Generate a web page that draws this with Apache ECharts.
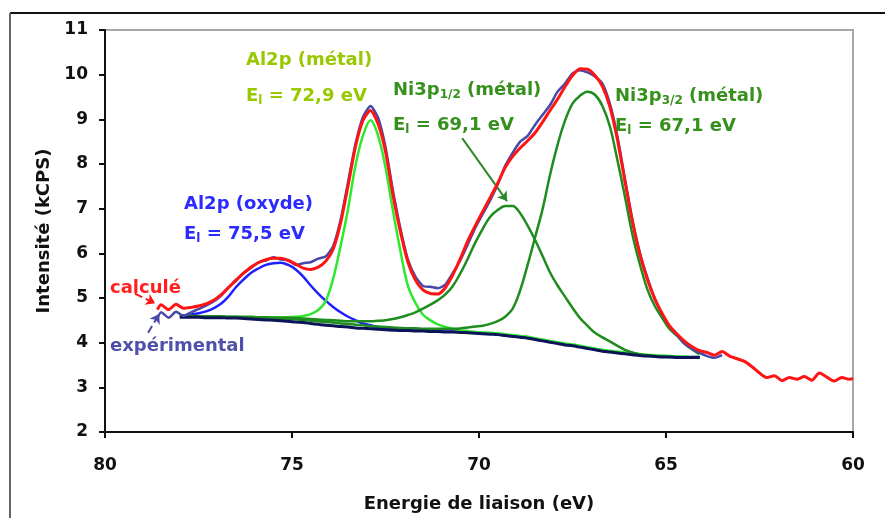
<!DOCTYPE html>
<html><head><meta charset="utf-8">
<script src="https://cdn.jsdelivr.net/npm/echarts@6/dist/echarts.min.js"></script>
<style>html,body{margin:0;padding:0;background:#fff}#c{width:885px;height:518px}</style>
</head><body><div id="c"></div>
<script>
// ---- data (binding energy in eV, intensity in kCPS) ----
const energyComp = [78.0, 77.9, 77.7, 77.5, 77.3, 77.1, 76.9, 76.7, 76.5, 76.3,
  76.1, 75.9, 75.7, 75.5, 75.3, 75.1, 74.9, 74.7, 74.5, 74.3,
  74.1, 73.9, 73.7, 73.5, 73.3, 73.1, 72.9, 72.7, 72.5, 72.3,
  72.1, 71.9, 71.7, 71.5, 71.3, 71.1, 70.9, 70.7, 70.5, 70.3,
  70.1, 69.9, 69.7, 69.5, 69.3, 69.1, 68.9, 68.7, 68.5, 68.3,
  68.1, 67.9, 67.7, 67.5, 67.3, 67.1, 66.9, 66.7, 66.5, 66.3,
  66.1, 65.9, 65.7, 65.5, 65.3, 65.1, 64.9, 64.7, 64.5, 64.3,
  64.1];
const background = [4.57, 4.57, 4.57, 4.57, 4.56, 4.56, 4.56, 4.55, 4.55, 4.54,
  4.53, 4.52, 4.51, 4.50, 4.49, 4.48, 4.46, 4.45, 4.43, 4.41,
  4.39, 4.38, 4.36, 4.35, 4.33, 4.32, 4.31, 4.30, 4.29, 4.28,
  4.27, 4.27, 4.26, 4.26, 4.25, 4.25, 4.24, 4.24, 4.23, 4.22,
  4.21, 4.20, 4.19, 4.18, 4.16, 4.14, 4.12, 4.10, 4.07, 4.04,
  4.01, 3.98, 3.95, 3.93, 3.90, 3.87, 3.84, 3.81, 3.79, 3.77,
  3.75, 3.73, 3.71, 3.70, 3.69, 3.68, 3.68, 3.67, 3.67, 3.67,
  3.67];
const al2pOxyde = [4.60, 4.61, 4.63, 4.66, 4.70, 4.77, 4.87, 5.03, 5.24, 5.41,
  5.56, 5.66, 5.74, 5.78, 5.79, 5.74, 5.64, 5.48, 5.28, 5.10,
  4.94, 4.80, 4.68, 4.58, 4.50, 4.43, 4.39, 4.35, 4.33, 4.31,
  4.29, 4.28, 4.27, 4.27, 4.26, 4.26, 4.25, 4.25, 4.24, 4.23,
  4.22, 4.21, 4.20, 4.19, 4.17, 4.15, 4.13, 4.11, 4.08, 4.05,
  4.02, 3.99, 3.96, 3.94, 3.91, 3.88, 3.85, 3.82, 3.80, 3.78,
  3.76, 3.74, 3.72, 3.71, 3.70, 3.69, 3.69, 3.68, 3.68, 3.68,
  3.68];
const al2pMetal = [4.59, 4.59, 4.59, 4.59, 4.58, 4.58, 4.58, 4.58, 4.58, 4.57,
  4.57, 4.57, 4.57, 4.57, 4.57, 4.57, 4.58, 4.60, 4.64, 4.73,
  4.93, 5.43, 6.17, 7.00, 7.98, 8.64, 8.98, 8.64, 7.92, 6.95,
  6.05, 5.27, 4.89, 4.63, 4.50, 4.41, 4.35, 4.31, 4.28, 4.26,
  4.24, 4.23, 4.22, 4.21, 4.19, 4.17, 4.15, 4.13, 4.10, 4.07,
  4.04, 4.01, 3.98, 3.96, 3.93, 3.90, 3.87, 3.84, 3.82, 3.80,
  3.78, 3.76, 3.74, 3.73, 3.72, 3.71, 3.70, 3.69, 3.69, 3.68,
  3.68];
const ni3p12 = [4.60, 4.60, 4.60, 4.59, 4.59, 4.59, 4.59, 4.58, 4.58, 4.58,
  4.58, 4.57, 4.57, 4.56, 4.56, 4.56, 4.55, 4.54, 4.53, 4.52,
  4.51, 4.50, 4.49, 4.48, 4.48, 4.48, 4.48, 4.49, 4.50, 4.53,
  4.57, 4.62, 4.68, 4.76, 4.85, 4.95, 5.08, 5.27, 5.55, 5.88,
  6.24, 6.55, 6.82, 6.97, 7.06, 7.06, 6.90, 6.62, 6.30, 5.94,
  5.57, 5.28, 5.03, 4.78, 4.55, 4.38, 4.22, 4.12, 4.03, 3.93,
  3.84, 3.78, 3.74, 3.72, 3.70, 3.69, 3.68, 3.68, 3.67, 3.67,
  3.67];
const ni3p32 = [4.59, 4.59, 4.58, 4.58, 4.58, 4.58, 4.57, 4.57, 4.57, 4.56,
  4.56, 4.55, 4.55, 4.54, 4.53, 4.53, 4.52, 4.51, 4.49, 4.48,
  4.46, 4.45, 4.43, 4.42, 4.40, 4.39, 4.37, 4.36, 4.35, 4.34,
  4.33, 4.32, 4.32, 4.31, 4.31, 4.31, 4.31, 4.31, 4.32, 4.34,
  4.36, 4.38, 4.42, 4.48, 4.58, 4.76, 5.17, 5.74, 6.36, 6.99,
  7.76, 8.43, 8.97, 9.35, 9.53, 9.62, 9.55, 9.30, 8.84, 8.09,
  7.28, 6.43, 5.76, 5.20, 4.82, 4.55, 4.30, 4.15, 3.97, 3.85,
  3.74];
const energyMeas = [78.6, 78.5, 78.3, 78.1, 77.9, 77.7, 77.5, 77.3, 77.1, 76.9,
  76.7, 76.5, 76.3, 76.1, 75.9, 75.7, 75.5, 75.3, 75.1, 74.9,
  74.7, 74.5, 74.3, 74.1, 73.9, 73.7, 73.5, 73.3, 73.1, 72.9,
  72.7, 72.5, 72.3, 72.1, 71.9, 71.7, 71.5, 71.3, 71.1, 70.9,
  70.7, 70.5, 70.3, 70.1, 69.9, 69.7, 69.5, 69.3, 69.1, 68.9,
  68.7, 68.5, 68.3, 68.1, 67.9, 67.7, 67.5, 67.3, 67.1, 66.9,
  66.7, 66.5, 66.3, 66.1, 65.9, 65.7, 65.5, 65.3, 65.1, 64.9,
  64.7, 64.5, 64.3, 64.1, 63.9, 63.7, 63.5, 63.3, 63.1, 62.9,
  62.7, 62.5, 62.3, 62.1, 61.9, 61.7, 61.5, 61.3, 61.1, 60.9,
  60.7, 60.5, 60.3, 60.1, 60.0];
const calcule = [4.74, 4.85, 4.74, 4.86, 4.77, 4.79, 4.82, 4.87, 4.95, 5.07,
  5.23, 5.40, 5.55, 5.69, 5.79, 5.86, 5.89, 5.89, 5.84, 5.76,
  5.67, 5.64, 5.69, 5.82, 6.09, 6.68, 7.52, 8.40, 8.98, 9.20,
  8.90, 8.28, 7.30, 6.48, 5.80, 5.40, 5.18, 5.10, 5.09, 5.23,
  5.52, 5.88, 6.28, 6.62, 6.94, 7.25, 7.57, 7.92, 8.17, 8.36,
  8.52, 8.70, 8.94, 9.20, 9.45, 9.73, 9.98, 10.13, 10.12, 9.98,
  9.74, 9.28, 8.55, 7.62, 6.72, 5.98, 5.42, 4.98, 4.65, 4.37,
  4.19, 4.03, 3.91, 3.82, 3.78, 3.72, 3.80, 3.70, 3.64, 3.58,
  3.46, 3.32, 3.22, 3.26, 3.15, 3.22, 3.18, 3.24, 3.16, 3.32,
  3.23, 3.14, 3.22, 3.18, 3.19];
const experimental = [4.55, 4.68, 4.56, 4.69, 4.60, 4.68, 4.75, 4.83, 4.92, 5.05,
  5.24, 5.38, 5.56, 5.67, 5.80, 5.84, 5.91, 5.86, 5.85, 5.74,
  5.78, 5.80, 5.88, 5.93, 6.16, 6.75, 7.60, 8.46, 9.06, 9.30,
  9.04, 8.38, 7.40, 6.55, 5.86, 5.48, 5.27, 5.25, 5.22, 5.30,
  5.56, 5.84, 6.20, 6.57, 6.88, 7.19, 7.54, 7.96, 8.25, 8.50,
  8.63, 8.88, 9.10, 9.32, 9.62, 9.80, 10.03, 10.10, 10.05, 9.96,
  9.80, 9.35, 8.62, 7.68, 6.76, 6.02, 5.46, 4.99, 4.63, 4.36,
  4.16, 3.98, 3.86, 3.77, 3.70, 3.66, 3.72];
const xTicks = {min: 60, max: 80, step: 5};
const yTicks = {min: 2, max: 11, step: 1};

function pairs(xs, ys) {
  const n = Math.min(xs.length, ys.length), out = [];
  for (let i = 0; i < n; i++) out.push([xs[i], ys[i]]);
  return out;
}

const FONT = 'DejaVu Sans';
const chart = echarts.init(document.getElementById('c'));

function lineSeries(name, xs, ys, color, width, z, smooth) {
  return {
    name: name, type: 'line', data: pairs(xs, ys), showSymbol: false,
    smooth: smooth, z: z, silent: true,
    lineStyle: {color: color, width: width}
  };
}

const calcSeries = lineSeries('calculé', energyMeas, calcule, '#ff1414', 3, 6, 0.25);
calcSeries.markLine = {
  silent: true, symbol: ['none', 'arrow'], symbolSize: 9, animation: false,
  label: {show: false},
  data: [
    [{coord: [70.45, 8.58], lineStyle: {color: '#2a8a2a', width: 2, type: 'solid'}}, {coord: [69.25, 7.17]}],
    [{coord: [79.2, 5.10], lineStyle: {color: '#ff1414', width: 2, type: 'dashed'}}, {coord: [78.66, 4.88]}],
    [{coord: [78.85, 4.22], lineStyle: {color: '#4848a8', width: 2, type: 'dashed'}}, {coord: [78.55, 4.64]}]
  ]
};

function txt(x, y, parts, color) {
  return {
    type: 'text', left: x, top: y, z: 100,
    style: {
      text: parts, fill: color, font: 'bold 18px "' + FONT + '"',
      rich: {
        s: {fontSize: 12, fontWeight: 'bold', fontFamily: FONT, fill: color, padding: [9, 0, 0, 0]},
        n: {fontSize: 18, fontWeight: 'bold', fontFamily: FONT, fill: color}
      }
    }
  };
}

const option = {
  animation: false,
  backgroundColor: '#fff',
  grid: {left: 105, right: 32, top: 30, bottom: 80, show: true, borderColor: '#a8a8a8', borderWidth: 2},
  xAxis: {
    type: 'value', min: xTicks.min, max: xTicks.max, interval: xTicks.step, inverse: true,
    axisLine: {lineStyle: {color: '#111', width: 2}},
    axisTick: {show: true, inside: false, length: 6, lineStyle: {color: '#111', width: 2}},
    axisLabel: {color: '#111', fontFamily: FONT, fontWeight: 'bold', fontSize: 17, margin: 25},
    splitLine: {show: false},
    name: 'Energie de liaison (eV)', nameLocation: 'middle', nameGap: 63,
    nameTextStyle: {color: '#111', fontFamily: FONT, fontWeight: 'bold', fontSize: 18}
  },
  yAxis: {
    type: 'value', min: yTicks.min, max: yTicks.max, interval: yTicks.step,
    axisLine: {lineStyle: {color: '#111', width: 2}},
    axisTick: {show: true, inside: false, length: 6, lineStyle: {color: '#111', width: 2}},
    axisLabel: {color: '#111', fontFamily: FONT, fontWeight: 'bold', fontSize: 17, margin: 17},
    splitLine: {show: false},
    name: 'Intensité (kCPS)', nameLocation: 'middle', nameGap: 51, nameRotate: 90,
    nameTextStyle: {color: '#111', fontFamily: FONT, fontWeight: 'bold', fontSize: 18}
  },
  series: [
    lineSeries('Al2p (oxyde)', energyComp, al2pOxyde, '#1f1fff', 2.5, 2, 0.35),
    lineSeries('Al2p (métal)', energyComp, al2pMetal, '#2ee82e', 2.5, 2, 0.35),
    lineSeries('Ni3p1/2 (métal)', energyComp, ni3p12, '#1e8c1e', 2.5, 2, 0.35),
    lineSeries('Ni3p3/2 (métal)', energyComp, ni3p32, '#1e8c1e', 2.5, 2, 0.35),
    lineSeries('fond', energyComp, background, '#0c1458', 3, 3, 0.35),
    lineSeries('expérimental', energyMeas, experimental, '#4848a8', 2.5, 4, 0.2),
    calcSeries
  ],
  graphic: [
    {type: 'line', shape: {x1: 10, y1: 13, x2: 885, y2: 13}, style: {stroke: '#111', lineWidth: 2}, z: 100},
    {type: 'line', shape: {x1: 10, y1: 13, x2: 10, y2: 518}, style: {stroke: '#666', lineWidth: 2}, z: 100},
    txt(246, 51, '{n|Al2p (métal)}', '#99c800'),
    txt(246, 87, '{n|E}{s|l}{n| = 72,9 eV}', '#99c800'),
    txt(393, 81, '{n|Ni3p}{s|1/2}{n| (métal)}', '#35901c'),
    txt(393, 116, '{n|E}{s|l}{n| = 69,1 eV}', '#35901c'),
    txt(615, 87, '{n|Ni3p}{s|3/2}{n| (métal)}', '#35901c'),
    txt(615, 117, '{n|E}{s|l}{n| = 67,1 eV}', '#35901c'),
    txt(184, 195, '{n|Al2p (oxyde)}', '#2b2bff'),
    txt(184, 225, '{n|E}{s|l}{n| = 75,5 eV}', '#2b2bff'),
    txt(110, 279, '{n|calculé}', '#ff1f1f'),
    txt(110, 337, '{n|expérimental}', '#5050a8')
  ]
};
chart.setOption(option);
</script>
</body></html>
